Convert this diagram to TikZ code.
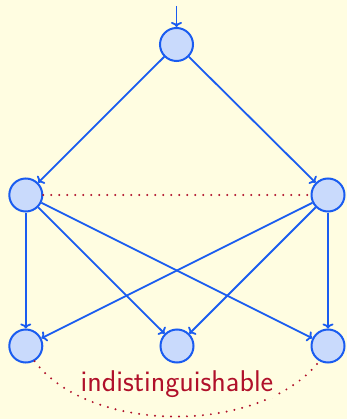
\documentclass[tikz,border=0pt]{standalone}
\usepackage{fontspec}
\usetikzlibrary{arrows.meta}
\definecolor{bg}{HTML}{FFFDE1}
\definecolor{nodeblue}{HTML}{1A5CF0}
\definecolor{nodefill}{HTML}{C9DAFC}
\definecolor{darkred}{HTML}{B0102A}
\begin{document}
\begin{tikzpicture}[x=1pt,y=-1pt,
  state/.style={circle,draw=nodeblue,fill=nodefill,line width=2pt,minimum size=33pt,inner sep=0pt},
  edge/.style={draw=nodeblue,line width=1.8pt,-{To[length=5pt,width=11pt]}},
  rel/.style={draw=darkred,line width=2.2pt,dash pattern=on 0pt off 8pt,line cap=round}]
\fill[bg] (0,0) rectangle (347,419);
\useasboundingbox (0,0) rectangle (347,419);
\node[state] (t) at (176.5,44.5) {};
\node[state] (ml) at (25.8,195) {};
\node[state] (mr) at (328,195) {};
\node[state] (bl) at (25.8,346) {};
\node[state] (bm) at (177,346) {};
\node[state] (br) at (328,346) {};
\coordinate (in) at (176.5,6);
\draw[edge] (in) -- (t);
\draw[edge] (t) -- (ml);
\draw[edge] (t) -- (mr);
\foreach \a in {ml,mr}{
  \foreach \b in {bl,bm,br}{
    \draw[edge] (\a) -- (\b);
  }
}
\draw[rel] (ml) -- (mr);
\draw[rel] (bl.-60) .. controls (90,435) and (262,435) .. (br.-120);
\node[fill=bg,text=darkred,font=\sffamily\fontsize{30}{30}\selectfont\addfontfeature{LetterSpace=5},inner sep=1pt,anchor=base] (lab) at (177,391) {indistinguishable};
\end{tikzpicture}
\end{document}
